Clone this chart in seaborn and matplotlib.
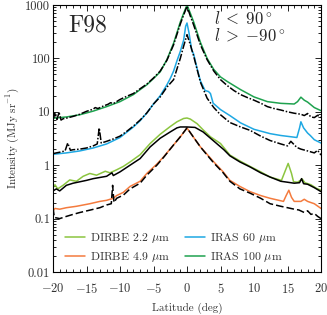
import numpy as np
import pandas as pd
import matplotlib
matplotlib.use("Agg")
import matplotlib.pyplot as plt
import matplotlib.ticker as mticker
from matplotlib.lines import Line2D
import seaborn as sns

# ---------------- data ----------------
# IRAS 100 micron (green, data)
b_i100 = [-20, -18, -16, -14, -12, -10, -8, -7, -6, -5, -4, -3, -2, -1, -0.5, 0, 0.5, 1, 2, 3, 4, 5, 6, 7, 8, 10,
          12, 14, 16, 16.5, 17, 17.5, 18, 19, 20]
v_i100 = [7.6, 8.0, 8.8, 10.3, 12.5, 15.5, 21, 26, 32, 42, 56, 95, 193, 480, 700, 1000, 700, 480, 200, 100, 62, 45,
          37, 31, 26, 19, 15.5, 14.4, 14.0, 15.5, 18.8, 16.5, 15.2, 12, 10.5]

# IRAS 100 model (black dash-dot)
b_m100 = [-20, -19.7, -19.4, -19.1, -18.8, -18.5, -18, -17, -16, -15, -14, -13.7, -13.3, -12.5, -11.8, -11.4, -11,
          -10, -9, -8, -7, -6, -5, -4, -3, -2, -1, -0.5, 0, 0.5, 1, 2, 3, 4, 5, 6, 7, 8, 9, 10, 11, 12, 13, 14, 15,
          16, 17, 17.5, 18, 18.5, 19, 19.5, 20]
v_m100 = [7.0, 9.5, 7.2, 9.8, 7.0, 7.4, 7.6, 8.2, 9.0, 10.2, 11.2, 12.0, 11.5, 12.8, 13.8, 14.8, 14.2,
          17, 19.5, 22, 27, 33, 43, 58, 92, 180, 440, 650, 950, 620, 420, 180, 95, 58, 40, 31, 25, 21, 18.5, 16.5,
          14.5, 12.5, 11.5, 10.8, 10, 9.4, 9.0, 8.5, 9.3, 8.0, 7.8, 8.6, 7.8]

# IRAS 60 micron (blue, data)
b_i60 = [-20, -18, -16, -14, -12, -10, -8, -7, -6, -5, -4, -3, -2.5, -2, -1.5, -1, -0.5, -0.2, 0, 0.3, 0.7, 1,
         1.5, 2, 2.7, 3.2, 3.5, 3.9, 5, 6.4, 8, 10, 12.4, 14, 16.4, 16.8, 17, 17.4, 18, 18.4, 19, 20]
v_i60 = [1.6, 1.7, 1.85, 2.1, 2.5, 3.3, 5.2, 6.8, 9.5, 14, 20, 32, 42, 58, 90, 135, 220, 400, 460, 300, 143, 120,
         65, 38, 25, 24, 22, 14.5, 11, 8.5, 6.2, 4.7, 3.9, 3.6, 3.3, 5.0, 6.5, 5.0, 4.0, 3.6, 3.0, 2.6]

# IRAS 60 model (black dash-dot)
b_m60 = [-20, -19, -18.2, -17.8, -17.4, -17, -16, -15, -14, -13.4, -13.1, -12.8, -12, -11, -10, -9, -8, -7, -6, -5,
         -4, -3, -2, -1, -0.5, 0, 0.5, 1, 2, 3, 4, 5, 6.4, 8, 9.4, 11, 12.4, 14, 15, 15.5, 16.4, 17, 18, 19, 19.5, 20]
v_m60 = [1.65, 1.75, 1.85, 2.6, 1.9, 1.95, 2.0, 2.1, 2.3, 2.5, 5.0, 2.6, 2.8, 3.1, 3.5, 4.3, 5.4, 7.0, 9.5, 14,
         19, 29, 40, 100, 170, 278, 180, 110, 36, 18, 12, 8.8, 6.3, 5.2, 4.5, 3.5, 2.9, 2.5, 2.3, 2.8, 2.15, 2.0,
         1.85, 1.7, 1.9, 1.55]

# DIRBE 2.2 micron (light green, data)
b_d22 = [-20, -19.7, -19.3, -18.5, -17.5, -16.5, -15.5, -14.5, -13.5, -12.2, -11.5, -10.5, -9.5, -8.5, -7, -5.5,
         -4, -2.5, -1.5, -0.5, 0, 0.5, 1.5, 2.4, 3.5, 5, 6.4, 7.9, 9.4, 11, 12.4, 14.1, 14.6, 15.1, 15.6, 15.9,
         16.5, 17.2, 17.6, 18.5, 19.3, 20]
v_d22 = [0.38, 0.43, 0.36, 0.42, 0.53, 0.50, 0.62, 0.70, 0.65, 0.77, 0.72, 0.82, 0.95, 1.15, 1.57, 2.55,
         3.8, 5.3, 6.5, 7.5, 7.65, 7.3, 6.0, 4.6, 3.4, 2.55, 1.55, 1.2, 0.95, 0.75, 0.60, 0.52, 0.75, 1.08, 0.7,
         0.49, 0.48, 0.55, 0.47, 0.43, 0.37, 0.34]

# DIRBE 2.2 model (black solid)
b_m22 = [-20, -19.5, -19, -18, -17, -15, -14, -12, -11.2, -11, -10, -8.5, -7, -5.5, -4, -2.5, -1.5, -1, 0, 1.2,
         2.4, 3.9, 5.5, 6.4, 7.9, 9.4, 11, 12.4, 14, 15, 16, 16.8, 17.1, 17.4, 18, 19, 20]
v_m22 = [0.33, 0.36, 0.33, 0.42, 0.46, 0.52, 0.56, 0.62, 0.72, 0.64, 0.75, 1.0, 1.33, 2.2, 3.2, 4.2, 5.0, 5.2,
         5.2, 5.1, 4.2, 2.9, 1.95, 1.5, 1.15, 0.93, 0.72, 0.60, 0.50, 0.48, 0.46, 0.47, 0.56, 0.45, 0.44, 0.38,
         0.32]

# DIRBE 4.9 micron (orange, data)
b_d49 = [-20, -19.7, -19, -18, -16.5, -14.5, -13, -12, -11, -10.5, -9.5, -8.5, -7, -6, -4.5, -3.5, -2, -1, 0, 1,
         2, 2.9, 4, 5.4, 6.4, 7.9, 9.4, 11, 12.4, 14.4, 14.8, 15.2, 15.6, 16, 17, 17.5, 18, 19, 20]
v_d49 = [0.14, 0.155, 0.15, 0.16, 0.17, 0.19, 0.21, 0.22, 0.24, 0.27, 0.31, 0.40, 0.50, 0.70, 1.05, 1.43, 2.4,
         3.4, 4.97, 3.3, 2.2, 1.65, 1.15, 0.75, 0.52, 0.40, 0.32, 0.27, 0.24, 0.21, 0.27, 0.34, 0.25, 0.21, 0.21,
         0.23, 0.21, 0.19, 0.155]

# DIRBE 4.9 model (black dashed)
b_m49 = [-20, -19.8, -19, -18, -17, -16, -14.5, -13, -12, -11.3, -11.1, -10.9, -10.5, -9.5, -8.5, -7, -6, -4.5,
         -3.5, -2, -1, 0, 1, 2, 3, 4, 5.4, 6.4, 7.9, 9.4, 11, 12.4, 14, 15, 16, 16.7, 17.5, 18, 18.5, 19, 19.5, 20]
v_m49 = [0.16, 0.105, 0.10, 0.11, 0.12, 0.13, 0.144, 0.16, 0.18, 0.19, 0.42, 0.20, 0.24, 0.275, 0.36, 0.46,
         0.65, 1.0, 1.4, 2.4, 3.4, 5.0, 3.3, 2.2, 1.55, 1.1, 0.72, 0.5, 0.36, 0.30, 0.24, 0.19, 0.17, 0.16, 0.15,
         0.145, 0.13, 0.14, 0.12, 0.125, 0.11, 0.10]

labels = ["DIRBE 2.2 $\\mu$m", "DIRBE 4.9 $\\mu$m", "IRAS 60 $\\mu$m", "IRAS 100 $\\mu$m"]
x_ticks = [-20, -15, -10, -5, 0, 5, 10, 15, 20]
y_ticks = [0.01, 0.1, 1, 10, 100, 1000]
y_ticklabels = ["0.01", "0.1", "1", "10", "100", "1000"]

# ---------------- style ----------------
sns.set_theme(style="ticks")
plt.rcParams.update({
    "font.family": ["serif"],
    "font.serif": ["cmr10", "DejaVu Serif"],
    "mathtext.fontset": "cm",
    "axes.formatter.use_mathtext": True,
    "axes.unicode_minus": False,
    "axes.linewidth": 0.8,
    "axes.edgecolor": "black",
})

c100 = "#1FA24F"
c60 = "#1EA8E3"
c22 = "#8CC540"
c49 = "#F47B3E"

fig = plt.figure(figsize=(3.27, 3.15), dpi=100)
ax = fig.add_axes([53 / 327, 1 - 272 / 315, (321 - 53) / 327, (272 - 5) / 315])

lw = 1.1
dashdot = (0, (5, 1.2, 1, 1.2))

def draw(b, v, color, ls="-", z=2):
    df = pd.DataFrame({"b": b, "v": v})
    sns.lineplot(data=df, x="b", y="v", ax=ax, color=color, lw=lw, linestyle=ls,
                 estimator=None, sort=False, zorder=z, legend=False)

draw(b_i100, v_i100, c100)
draw(b_i60, v_i60, c60)
draw(b_d22, v_d22, c22)
draw(b_d49, v_d49, c49)
draw(b_m100, v_m100, "black", dashdot, 3)
draw(b_m60, v_m60, "black", dashdot, 3)
draw(b_m22, v_m22, "black", "-", 3)
draw(b_m49, v_m49, "black", (0, (5, 2)), 3)

ax.set_yscale("log")
ax.set_xlim(-20, 20)
ax.set_ylim(0.01, 1000)
ax.set_xticks(x_ticks)
ax.xaxis.set_minor_locator(mticker.MultipleLocator(1))
ax.xaxis.set_major_formatter(mticker.FuncFormatter(lambda v, p: "$%d$" % v))
ax.set_yticks(y_ticks)
ax.set_yticklabels(y_ticklabels)
ax.yaxis.set_minor_locator(mticker.LogLocator(base=10, subs=np.arange(2, 10), numticks=20))
ax.yaxis.set_minor_formatter(mticker.NullFormatter())

ax.tick_params(which="both", direction="in", top=True, right=True, colors="black", width=0.6)
ax.tick_params(which="major", length=4)
ax.tick_params(which="minor", length=2)
ax.tick_params(axis="x", which="major", labelsize=9, pad=7)
ax.tick_params(axis="y", which="major", labelsize=9, pad=2)
for lab in ax.get_yticklabels():
    lab.set_color("#333333")
for lab in ax.get_xticklabels():
    lab.set_color("#333333")

ax.set_xlabel("Latitude (deg)", fontsize=8, labelpad=5, color="#333333")
ax.set_ylabel("Intensity (MJy sr$^{-1}$)", fontsize=8, labelpad=3, color="#333333")

ax.text(0.056, 0.925, "F98", transform=ax.transAxes, fontsize=17, va="center", ha="left")
ax.text(0.600, 0.983, "$l\\;<\\;90^\\circ$\n$l\\;>\\;{-}90^\\circ$", transform=ax.transAxes,
        fontsize=12, va="top", ha="left", linespacing=1.0)

handles = [Line2D([0], [0], color=c, lw=lw) for c in (c22, c49, c60, c100)]
leg = ax.legend(handles, labels, ncol=2, loc="lower left", bbox_to_anchor=(0.045, 0.03), frameon=False,
                fontsize=8.5, handlelength=1.7, handletextpad=0.4, columnspacing=1.3, labelspacing=0.45,
                borderpad=0, borderaxespad=0)
for t in leg.get_texts():
    t.set_color("#333333")

fig.savefig("out.png", dpi=100)
